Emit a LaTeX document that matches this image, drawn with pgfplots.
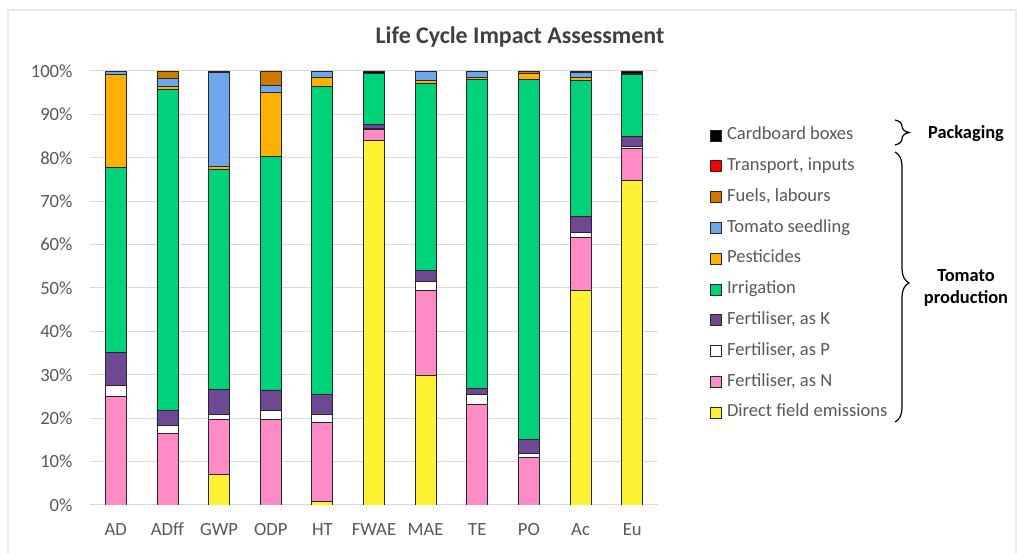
\documentclass[border=0pt]{standalone}
\usepackage{fontspec}
\setmainfont{Carlito}
\usepackage{pgfplots}
\usepackage{pgfplotstable}
\pgfplotsset{compat=1.18}
\usetikzlibrary{decorations.pathreplacing}

\definecolor{cDirect}{HTML}{FFF233}
\definecolor{cN}{HTML}{FF8BC6}
\definecolor{cP}{HTML}{FFFFFF}
\definecolor{cK}{HTML}{6F4894}
\definecolor{cIrr}{HTML}{00D27A}
\definecolor{cPest}{HTML}{FFB000}
\definecolor{cSeed}{HTML}{6DA7EC}
\definecolor{cFuel}{HTML}{CC7A00}
\definecolor{cTrans}{HTML}{FF0000}
\definecolor{cBox}{HTML}{000000}
\definecolor{labelgray}{HTML}{595959}
\definecolor{titlegray}{HTML}{404040}
\definecolor{gridgray}{HTML}{D9D9D9}
\definecolor{framegray}{HTML}{EBEBEB}

% share of each impact category (%), categories 0..10 = AD ... Eu
\pgfplotstableread{
cat direct fertN fertP fertK irr  pest seed fuel trans box
0   0.0    25.0  2.5   7.7   42.6 21.4 0.8  0.0  0.0   0.0
1   0.0    16.5  1.8   3.4   74.1 0.7  1.8  1.7  0.0   0.0
2   7.1    12.5  1.3   5.8   50.6 0.7  21.7 0.3  0.0   0.0
3   0.0    19.7  2.0   4.8   53.9 14.6 1.6  3.4  0.0   0.0
4   0.9    18.1  1.9   4.6   71.0 2.0  1.5  0.0  0.0   0.0
5   83.9   2.7   0.2   0.8   11.9 0.0  0.0  0.0  0.0   0.5
6   29.8   19.7  2.0   2.6   43.1 0.6  2.2  0.0  0.0   0.0
7   0.0    23.2  2.3   1.4   71.2 0.4  1.5  0.0  0.0   0.0
8   0.0    10.9  1.0   3.1   83.1 1.4  0.0  0.5  0.0   0.0
9   49.5   12.2  1.1   3.6   31.4 0.7  1.1  0.4  0.0   0.0
10  74.7   7.5   0.5   2.3   14.1 0.0  0.4  0.0  0.0   0.5
}\lcia

\begin{document}
\begin{tikzpicture}[x=1bp,y=1bp]
\useasboundingbox (0,0) rectangle (1017,553);
\fill[white] (0,0) rectangle (1017,553);
\draw[framegray, line width=1.2bp] (8,-5) -- (8,543) -- (1016,543) -- (1016,-5);
\node[font=\bfseries\fontsize{24}{28}\selectfont, text=titlegray] at (520,516) {Life Cycle Impact Assessment};

\begin{axis}[
  at={(90bp,48bp)}, anchor=south west,
  scale only axis, width=568bp, height=434bp,
  ybar stacked, bar width=21bp,
  xmin=-0.5, xmax=10.5, ymin=0, ymax=100,
  xtick={0,...,10},
  xticklabels={AD,ADff,GWP,ODP,HT,FWAE,MAE,TE,PO,Ac,Eu},
  ytick={0,10,...,100},
  yticklabel={\pgfmathprintnumber[assume math mode=true]{\tick}\%},
  axis line style={draw=none}, major tick length=0pt,
  ymajorgrids, grid style={gridgray, line width=1bp},
  ticklabel style={font=\fontsize{18.7}{22}\selectfont, text=labelgray},
  xticklabel style={anchor=base, yshift=-31bp},
  yticklabel style={xshift=-14bp},
  every axis plot/.append style={draw=black!85, line width=0.9bp},
  reverse legend,
  legend cell align=left,
  legend image code/.code={\draw[#1, draw=black!85, line width=0.9bp] (0bp,-5.5bp) rectangle (11bp,5.5bp);},
  legend style={at={(1.0862,0.8917)}, anchor=north west, draw=none, fill=none,
    font=\fontsize{18.6}{22}\selectfont, text=labelgray, row sep=0pt,
    nodes={text height=19.6bp, text depth=11.2bp, inner sep=0pt, inner xsep=5bp}},
]
\addplot[fill=cDirect] table[x=cat, y=direct] {\lcia};
\addplot[fill=cN]      table[x=cat, y=fertN]  {\lcia};
\addplot[fill=cP]      table[x=cat, y=fertP]  {\lcia};
\addplot[fill=cK]      table[x=cat, y=fertK]  {\lcia};
\addplot[fill=cIrr]    table[x=cat, y=irr]    {\lcia};
\addplot[fill=cPest]   table[x=cat, y=pest]   {\lcia};
\addplot[fill=cSeed]   table[x=cat, y=seed]   {\lcia};
\addplot[fill=cFuel]   table[x=cat, y=fuel]   {\lcia};
\addplot[fill=cTrans]  table[x=cat, y=trans]  {\lcia};
\addplot[fill=cBox]    table[x=cat, y=box]    {\lcia};
\legend{Direct field emissions, {Fertiliser, as N}, {Fertiliser, as P}, {Fertiliser, as K},
  Irrigation, Pesticides, Tomato seedling, {Fuels, labours}, {Transport, inputs}, Cardboard boxes}
\end{axis}

% group braces
\draw[decorate, decoration={brace, amplitude=14bp}, line width=1.2bp] (895,433) -- (895,408);
\draw[decorate, decoration={brace, amplitude=14bp, aspect=0.485}, line width=1.2bp] (895,401) -- (895,131);
\node[font=\bfseries\fontsize{18.5}{22}\selectfont] at (966,419) {Packaging};
\node[font=\bfseries\fontsize{18.5}{22}\selectfont, align=center] at (966,265) {Tomato\\production};
\end{tikzpicture}
\end{document}
